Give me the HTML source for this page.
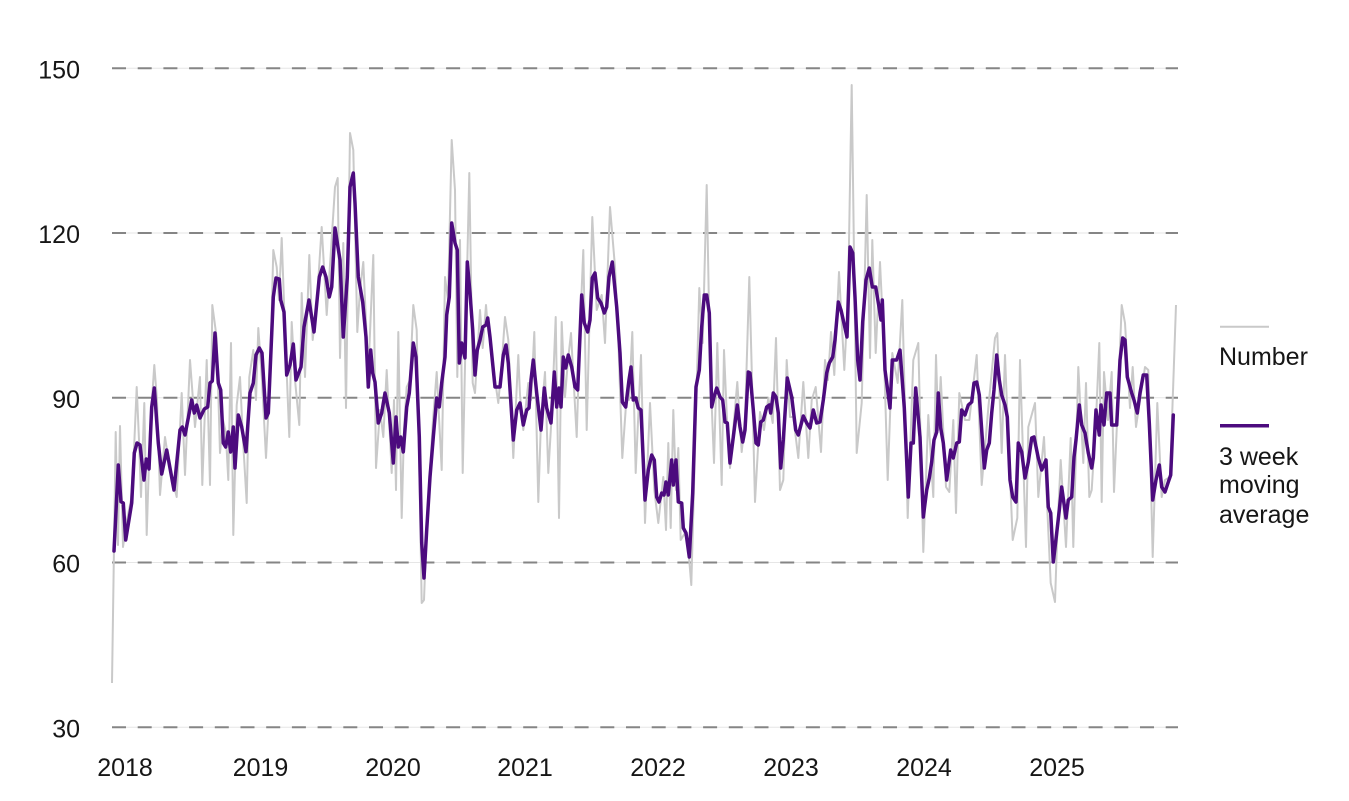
<!DOCTYPE html>
<html>
<head>
<meta charset="utf-8">
<style>
html,body{margin:0;padding:0;background:#fff;}
svg{display:block;}
text{font-family:"Liberation Sans",sans-serif;fill:#161616;}
</style>
</head>
<body>
<svg width="1349" height="801" viewBox="0 0 1349 801" xmlns="http://www.w3.org/2000/svg">
<rect width="1349" height="801" fill="#fff"/>
<g stroke="#e6e6e6" stroke-width="1">
<line x1="112" y1="68.3" x2="1178" y2="68.3"/>
<line x1="112" y1="233" x2="1178" y2="233"/>
<line x1="112" y1="397.8" x2="1178" y2="397.8"/>
<line x1="112" y1="562.5" x2="1178" y2="562.5"/>
<line x1="112" y1="727.3" x2="1178" y2="727.3"/>
</g>
<g stroke="#858585" stroke-width="2" stroke-dasharray="14 11.7">
<line x1="112" y1="68.3" x2="1178" y2="68.3"/>
<line x1="112" y1="233" x2="1178" y2="233"/>
<line x1="112" y1="397.8" x2="1178" y2="397.8"/>
<line x1="112" y1="562.5" x2="1178" y2="562.5"/>
<line x1="112" y1="727.3" x2="1178" y2="727.3"/>
</g>
<g font-size="25" text-anchor="end">
<text x="80" y="78.3">150</text>
<text x="80" y="243">120</text>
<text x="80" y="407.8">90</text>
<text x="80" y="572.5">60</text>
<text x="80" y="737.3">30</text>
</g>
<g font-size="25" text-anchor="middle">
<text x="125" y="776">2018</text>
<text x="260.5" y="776">2019</text>
<text x="393" y="776">2020</text>
<text x="525" y="776">2021</text>
<text x="658" y="776">2022</text>
<text x="791" y="776">2023</text>
<text x="924" y="776">2024</text>
<text x="1057" y="776">2025</text>
</g>
<polyline fill="none" stroke="#c9c9c9" stroke-width="2" stroke-linejoin="round" points="
112,683 115.7,432 118,545 120,426 123,547 127,520 131,500 134,450 136.7,387 139,440 141,497 144.3,403 146.7,535 150,430 154.3,365 157,400 160,495 163,460 165,437 170,470 176.7,497 181.7,393 185,475 190,360 195,427 200,377 202.3,485 206.7,360 210,485 212.3,305 216.7,338 220,453 223,420 225.7,432 228.3,480 231,343 233.3,535 236.7,405 240,377 243,440 246.7,503 249.3,377 253.3,350 256,400 258.3,328 262,380 266,458 270,380 273.3,250 276.7,267 279,300 281.7,238 285,330 289.3,437 291.7,322 295,380 299.3,425 301.7,293 305,377 309.3,255 312.7,340 317,300 321.7,227 326.7,315 331,250 335,187 337.7,178 340,358 343.3,243 346,408 350,133 353.3,150 357.3,332 360,290 363.3,262 368.3,373 373.3,255 376,468 380,410 383.3,437 386.7,370 391.7,473 394,400 396,490 398.3,332 401.7,518 404,430 406.7,387 410,380 413.3,305 416.7,330 419,450 421.7,603 424,600 427,520 430,470 433,420 436.7,372 441.7,470 445,277 448,300 451.7,140 455,190 457.3,377 460,240 462.7,473 466,320 469.3,173 472.7,383 475,393 477,360 480,310 482.7,348 486,305 488,330 491.7,350 495,380 498.3,403 502,360 505,317 508.3,340 513.3,458 518.3,355 520,395 523.3,430 528.3,383 531,400 534.3,332 538.3,502 541,420 545,372 548.3,473 552,410 555.7,317 559,518 561.7,322 565,397 568,360 571,333 576.7,437 580,330 583.3,250 586.7,430 590,300 592.3,217 596.7,310 601.7,295 605,343 610,207 615,267 618,330 622.3,458 626.7,395 629,400 632.3,332 635.7,473 641,355 645,523 650,403 654.3,490 658.3,523 663.3,477 666,530 668.3,443 670.7,528 673.3,410 676,490 678.3,448 680.7,540 685,533 688,545 691.3,585 695,450 699.3,288 702.7,343 706.7,185 710,362 714,463 717.3,343 721.7,485 724,350 727,420 730,468 737.3,382 741.7,452 745,420 749.3,277 752,380 755,502 760,412 764,430 768.3,398 772.7,423 776,338 780,490 783.3,480 786.7,360 790,417 793.3,417 798.3,458 803.3,382 808.3,458 811.7,400 815.7,387 821,452 825,360 828,380 831,332 834.3,375 839,272 844.3,370 848,300 851.7,85 856.7,453 861.7,403 866.7,195 870,358 872.3,240 875.7,353 880,262 883.3,332 887.7,480 892.3,353 897.7,383 902.3,300 907.7,518 913.3,360 918.3,343 923.3,552 928.3,415 933.3,497 936,355 938.3,430 940.7,377 946,487 949.3,492 953.3,420 956,513 959.3,393 965,420 969.3,420 976.7,355 981.7,485 988.3,408 995,338 997.3,333 1001.7,453 1005,355 1007.3,413 1012.7,540 1017.3,518 1020,360 1026,547 1028.3,427 1035,403 1038.3,497 1044,437 1050.7,583 1055,602 1057.3,533 1060.7,460 1066,547 1070.7,438 1073.3,547 1078.3,367 1083.3,463 1086,383 1089.3,497 1091.7,490 1096,420 1099.3,343 1101.7,502 1104,372 1108,420 1111.7,372 1114,492 1118,400 1121.7,305 1125,323 1130,408 1132.7,367 1136,427 1140,400 1145,367 1148.3,370 1152.7,557 1157.3,403 1161.7,497 1165,480 1170,477 1176,305"/>
<polyline fill="none" stroke="#4c0b7e" stroke-width="3.5" stroke-linejoin="round" stroke-linecap="round" points="
114,551 118.3,465 121,501.7 123.3,503 125.7,540 131.7,503 134.3,453 137,443 140,445 144,480 146.3,459 149,469 151.7,407 154.3,388 158.3,443 161.7,474 166.7,450 174,490 180,430 182.3,427 185,435 191.7,400 194.3,413 196.7,405 200,418 204.3,409 207.7,407 210,383 212.3,381 215,333 218.3,383 220.7,390 223.3,443 225.7,447 228.3,432 230.7,452 233.3,427 235,468 238.3,415 241.7,427 246,451.7 250,393 253.3,383 256,355 259.3,348 262,353 266,418 268.3,413 273.3,297 276,278 279.3,279 280.7,300 284,312 286.7,375 290,365 293.3,344 296,380 301,367 304,327 309,300 314,332 319.3,277 322.7,267 326,277 329.3,297 331.7,287 335,228 340,260 343.3,337 347.3,277 350,187 353.3,173 355,203 358.3,277 362.7,302 366,337 368.3,387 370.7,350 372.7,373 375,382 378.3,423 381.7,413 385,393 389.3,413 393.3,463 396,417 398.3,447 400.7,437 403.3,452 406.7,407 409.3,393 413.3,343 416,357 419.3,437 421.7,543 424,578 426.7,530 430,477 433.3,437 436.7,398 439.3,407 441.7,383 445,357 446.7,315 449.3,297 451.7,223 455,243 457.3,250 459.3,363 461.7,343 465,358 467.3,262 470,293 472.7,330 475,375 477.3,350 480,340 482.7,327 486,325 487.7,318 490,337 495,387 500,387 503.3,355 506,345 508.3,363 513.3,440 516.7,410 520,403 523.3,425 526.7,410 529,408 531,380 533.3,360 536.7,393 541,430 544.3,388 546.7,408 551,423 554.3,372 556.7,407 559,388 561,407 563.3,357 565.7,368 568.3,355 571.7,367 575,387 577.7,390 581.7,295 584.3,323 587.7,332 590,320 592.3,278 595,273 597.7,298 601,303 604.3,313 606.7,307 609,277 612.3,262 616.7,307 620,353 622.3,402 625.7,407 629,380 631,367 633.3,400 635.7,398 638.3,408 641,410 645,500 648.3,470 651.7,455 654.3,460 656.7,497 659,502 661.7,493 664,495 666,482 668.3,495 671.7,460 673.3,485 676,460 678.3,502 681.7,503 683.3,528 686,533 689.3,557 692.7,493 696,387 699.3,370 701.7,327 704.3,295 706.7,295 709.3,313 711.7,407 714,397 716.7,388 720,397 722.7,400 725,422 727.3,423 730,463 733.3,437 737.3,405 740,427 742.7,442 745,430 748.3,372 750,373 753.3,410 756,443 758.3,445 760.7,422 763.3,420 766.7,407 769.3,405 770.7,413 773.3,393 776,397 778.3,413 780.7,468 783.3,440 787.3,378 791.7,397 795.7,430 798.3,435 803.3,416 806.7,423 810,428 813.3,410 816.7,423 820,422 823.3,400 826.7,373 829.3,363 832.7,357 835,340 838.3,302 841,310 845,328 847,337 850,247 852.7,253 855,297 857.7,360 860,380 862.7,322 866,280 869.3,268 872.3,287 875.7,287 879,307 881,320 882.3,300 885,370 890,408 892.3,360 896.7,360 900,350 904.3,408 908.3,497 911,443 913.3,443 915.7,388 920,437 923.3,517 926.7,490 929.3,478 931.7,462 934,440 936.7,432 938.3,393 940.7,428 943.3,443 946.7,480 950.7,450 953.3,458 956.7,443 959.3,442 961.7,410 965,415 968.3,405 971.7,402 974,383 976.7,382 979.3,395 981.7,430 984.3,468 986.7,450 989.3,443 991.7,413 994,390 996.7,355 999.3,380 1001.7,395 1005,405 1007.3,417 1010,480 1012.7,497 1016,502 1018.3,443 1021.7,452 1025,478 1028.3,462 1031.7,438 1034,437 1038.3,458 1041.7,470 1046,460 1048.3,507 1050.7,513 1053.3,562 1056.7,533 1059.3,510 1061.7,487 1066,518 1068.3,500 1071.7,497 1074,457 1076,440 1079.3,405 1081.7,425 1085,433 1088.3,453 1091.7,468 1093.3,458 1096,410 1099.3,435 1101,405 1104,425 1106.7,393 1110,393 1111.7,425 1116.7,425 1120,360 1122.7,338 1125,340 1127.3,377 1131.7,393 1134,400 1137.3,413 1140,393 1143.3,375 1146.7,375 1149.3,423 1152.7,500 1156,480 1159.3,465 1161.7,487 1165,492 1168.3,482 1170.7,475 1173.3,415"/>
<line x1="1220" y1="326.7" x2="1269" y2="326.7" stroke="#c9c9c9" stroke-width="2"/>
<text x="1219" y="365" font-size="25">Number</text>
<line x1="1220" y1="425.7" x2="1269" y2="425.7" stroke="#4c0b7e" stroke-width="3.5"/>
<text x="1219" y="465" font-size="25">3 week</text>
<text x="1219" y="493" font-size="25">moving</text>
<text x="1219" y="523" font-size="25">average</text>
</svg>
</body>
</html>
